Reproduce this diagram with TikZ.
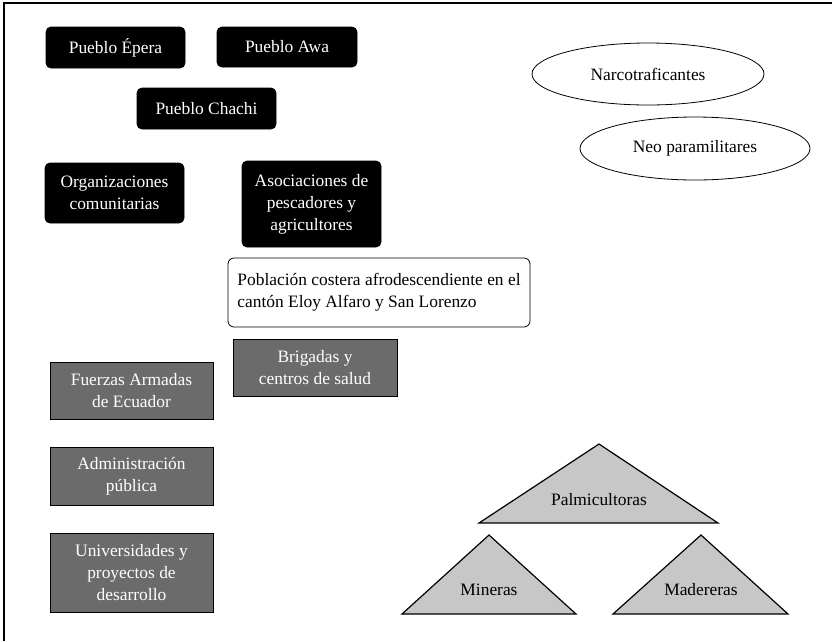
\documentclass[tikz,border=0pt]{standalone}
\usepackage{fontspec}
\setmainfont{Liberation Serif}
\usetikzlibrary{shapes.geometric}
\begin{document}
\begin{tikzpicture}[x=1pt,y=-1pt,
  every node/.style={font=\fontsize{17.4}{22}\selectfont, inner sep=0pt, align=center},
  blackbox/.style={draw=black, fill=black, text=white, rounded corners=5pt, line width=0.8pt},
  graybox/.style={draw=black, fill=black!58, text=white, line width=1pt},
  popbox/.style={draw=black, fill=white, rounded corners=6pt, line width=0.8pt, align=left},
  ellbox/.style={draw=black, ellipse, line width=0.8pt},
  tri/.style={draw=black, fill=black!22, line width=1.2pt, line join=miter},
  frame/.style={line width=1.3pt}]
\useasboundingbox (0,0) rectangle (832,641);
% frame
\coordinate (fl) at (4,641);
\coordinate (fc) at (4,3);
\coordinate (fr) at (832,3);
\draw[frame] (fl) -- (fc) -- (fr);
% black boxes
\node[blackbox, minimum width=139pt, minimum height=41pt] (epera) at (115.5,47.5) {Pueblo Épera};
\node[blackbox, minimum width=140pt, minimum height=40pt] (awa) at (287,47) {Pueblo Awa};
\node[blackbox, minimum width=139pt, minimum height=41pt] (chachi) at (206.5,108.5) {Pueblo Chachi};
\node[blackbox, minimum width=139pt, minimum height=60pt] (org) at (114.5,193) {Organizaciones\\comunitarias};
\node[blackbox, minimum width=139pt, minimum height=86pt] (asoc) at (311.5,204) {Asociaciones de\\pescadores y\\agricultores};
% population
\node[popbox, minimum width=302pt, minimum height=69pt] (pob) at (379,292.5) {Población costera afrodescendiente en el\\cantón Eloy Alfaro y San Lorenzo};
% gray boxes
\node[graybox, minimum width=164pt, minimum height=57pt] (brig) at (315,367.5) {Brigadas y\\centros de salud};
\node[graybox, minimum width=163pt, minimum height=57pt] (fuer) at (131.5,390.5) {Fuerzas Armadas\\de Ecuador};
\node[graybox, minimum width=163pt, minimum height=58pt] (adm) at (131.5,476) {Administración\\pública};
\node[graybox, minimum width=163pt, minimum height=79pt] (univ) at (131.5,572.5) {Universidades y\\proyectos de\\desarrollo};
% ellipses
\node[ellbox, minimum width=232pt, minimum height=62pt] (narco) at (648,74) {Narcotraficantes};
\node[ellbox, minimum width=230pt, minimum height=63pt] (neo) at (695,148.5) {Neo paramilitares};
% triangles
\draw[tri] (479,523) -- (599,444) -- (718,523) -- cycle;
\node (palm) at (599,500) {Palmicultoras};
\draw[tri] (402,614) -- (489,535) -- (576,614) -- cycle;
\node (min) at (489,590) {Mineras};
\draw[tri] (613,614) -- (701,535) -- (788,614) -- cycle;
\node (mad) at (701,590) {Madereras};
\end{tikzpicture}
\end{document}
